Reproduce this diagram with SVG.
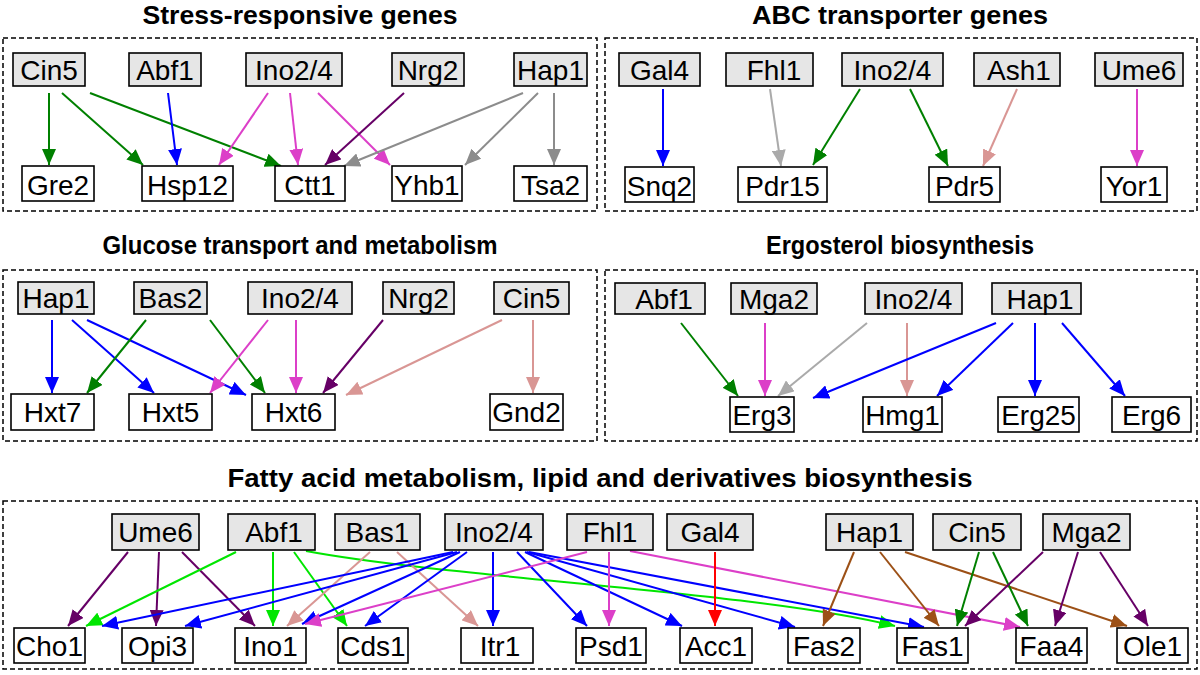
<svg xmlns="http://www.w3.org/2000/svg" width="1200" height="675" viewBox="0 0 1200 675">
<style>
.bg{fill:#fff}
.panel{fill:none;stroke:#000;stroke-width:1.5;stroke-dasharray:5 3}
.tf{fill:#e6e6e6;stroke:#000;stroke-width:1.6}
.gn{fill:#fff;stroke:#000;stroke-width:1.6}
text{font-family:"Liberation Sans",Arial,sans-serif;text-anchor:middle;fill:#000}
.lbl{font-size:28px}
.title{font-size:25px;font-weight:bold}
.c{fill:none;stroke-width:2}
.dg{stroke:#008000;marker-end:url(#a-dg)}
.bl{stroke:#0000ff;marker-end:url(#a-bl)}
.mg{stroke:#dc3fc8;marker-end:url(#a-mg)}
.pu{stroke:#660066;marker-end:url(#a-pu)}
.gy{stroke:#8c8c8c;marker-end:url(#a-gy)}
.lg{stroke:#aaaaaa;marker-end:url(#a-lg)}
.pk{stroke:#d99694;marker-end:url(#a-pk)}
.lm{stroke:#00e600;marker-end:url(#a-lm)}
.rd{stroke:#ff0000;marker-end:url(#a-rd)}
.br{stroke:#9c5016;marker-end:url(#a-br)}
</style>
<defs>
<marker id="a-dg" markerUnits="userSpaceOnUse" markerWidth="16" markerHeight="14" refX="16" refY="7" orient="auto"><path d="M0,0 L16,7 L0,14 z" fill="#008000"/></marker>
<marker id="a-bl" markerUnits="userSpaceOnUse" markerWidth="16" markerHeight="14" refX="16" refY="7" orient="auto"><path d="M0,0 L16,7 L0,14 z" fill="#0000ff"/></marker>
<marker id="a-mg" markerUnits="userSpaceOnUse" markerWidth="16" markerHeight="14" refX="16" refY="7" orient="auto"><path d="M0,0 L16,7 L0,14 z" fill="#dc3fc8"/></marker>
<marker id="a-pu" markerUnits="userSpaceOnUse" markerWidth="16" markerHeight="14" refX="16" refY="7" orient="auto"><path d="M0,0 L16,7 L0,14 z" fill="#660066"/></marker>
<marker id="a-gy" markerUnits="userSpaceOnUse" markerWidth="16" markerHeight="14" refX="16" refY="7" orient="auto"><path d="M0,0 L16,7 L0,14 z" fill="#8c8c8c"/></marker>
<marker id="a-lg" markerUnits="userSpaceOnUse" markerWidth="16" markerHeight="14" refX="16" refY="7" orient="auto"><path d="M0,0 L16,7 L0,14 z" fill="#aaaaaa"/></marker>
<marker id="a-pk" markerUnits="userSpaceOnUse" markerWidth="16" markerHeight="14" refX="16" refY="7" orient="auto"><path d="M0,0 L16,7 L0,14 z" fill="#d99694"/></marker>
<marker id="a-lm" markerUnits="userSpaceOnUse" markerWidth="16" markerHeight="14" refX="16" refY="7" orient="auto"><path d="M0,0 L16,7 L0,14 z" fill="#00e600"/></marker>
<marker id="a-rd" markerUnits="userSpaceOnUse" markerWidth="16" markerHeight="14" refX="16" refY="7" orient="auto"><path d="M0,0 L16,7 L0,14 z" fill="#ff0000"/></marker>
<marker id="a-br" markerUnits="userSpaceOnUse" markerWidth="16" markerHeight="14" refX="16" refY="7" orient="auto"><path d="M0,0 L16,7 L0,14 z" fill="#9c5016"/></marker>
</defs>
<rect class="bg" x="0" y="0" width="1200" height="675"/>

<g id="panels">
<rect class="panel" x="3" y="38" width="594" height="173"/>
<rect class="panel" x="605" y="38" width="592" height="173"/>
<rect class="panel" x="3" y="270" width="594" height="171"/>
<rect class="panel" x="605" y="270" width="592" height="171"/>
<rect class="panel" x="3" y="501" width="1194" height="168"/>
<text class="title" x="300" y="24" textLength="315" lengthAdjust="spacingAndGlyphs">Stress-responsive genes</text>
<text class="title" x="900" y="24" textLength="296" lengthAdjust="spacingAndGlyphs">ABC transporter genes</text>
<text class="title" x="300" y="254" textLength="395" lengthAdjust="spacingAndGlyphs">Glucose transport and metabolism</text>
<text class="title" x="900" y="254" textLength="268" lengthAdjust="spacingAndGlyphs">Ergosterol biosynthesis</text>
<text class="title" x="600" y="487" textLength="745" lengthAdjust="spacingAndGlyphs">Fatty acid metabolism, lipid and derivatives biosynthesis</text>
</g>

<g id="connectors">
<!-- Panel 1 -->
<path class="c dg" d="M49,93 L49,165"/>
<path class="c dg" d="M62,93 L143,165"/>
<path class="c dg" d="M90,93 L281,166"/>
<path class="c bl" d="M168,93 L177,165"/>
<path class="c mg" d="M268,93 L219,165"/>
<path class="c mg" d="M290,93 L298,165"/>
<path class="c mg" d="M318,93 L390,165"/>
<path class="c pu" d="M404,93 L325,165"/>
<path class="c gy" d="M523,93 L344,166"/>
<path class="c gy" d="M538,93 L465,165"/>
<path class="c gy" d="M554,93 L554,165"/>
<!-- Panel 2 -->
<path class="c bl" d="M663,89 L663,166"/>
<path class="c lg" d="M770,89 L781,166"/>
<path class="c dg" d="M860,89 L813,165"/>
<path class="c dg" d="M910,89 L948,166"/>
<path class="c pk" d="M1017,89 L983,166"/>
<path class="c mg" d="M1137,89 L1137,166"/>
<!-- Panel 3 -->
<path class="c bl" d="M52,320 L52,393"/>
<path class="c bl" d="M72,320 L154,393"/>
<path class="c bl" d="M87,320 L246,395"/>
<path class="c dg" d="M146,320 L87,393"/>
<path class="c dg" d="M210,320 L265,393"/>
<path class="c mg" d="M268,320 L210,393"/>
<path class="c mg" d="M296,320 L296,393"/>
<path class="c pu" d="M383,320 L323,393"/>
<path class="c pk" d="M502,320 L346,395"/>
<path class="c pk" d="M533,320 L533,393"/>
<!-- Panel 4 -->
<path class="c dg" d="M681,323 L738,396"/>
<path class="c mg" d="M765,323 L765,396"/>
<path class="c lg" d="M867,323 L778,396"/>
<path class="c pk" d="M907,323 L907,396"/>
<path class="c bl" d="M996,323 L813,398"/>
<path class="c bl" d="M1013,323 L937,396"/>
<path class="c bl" d="M1035,323 L1035,396"/>
<path class="c bl" d="M1062,323 L1125,396"/>
<!-- Panel 5 -->
<path class="c pu" d="M128,552 L68,626"/>
<path class="c pu" d="M159,552 L156,626"/>
<path class="c pu" d="M182,552 L255,626"/>
<path class="c lm" d="M236,552 L86,626"/>
<path class="c lm" d="M273,552 L273,626"/>
<path class="c lm" d="M294,552 L347,626"/>
<path class="c lm" d="M306,551 C450,578 760,592 895,626"/>
<path class="c pk" d="M370,552 L287,626"/>
<path class="c pk" d="M397,552 L478,626"/>
<path class="c bl" d="M453,552 L102,626"/>
<path class="c bl" d="M457,552 L185,626"/>
<path class="c bl" d="M460,552 L302,624"/>
<path class="c bl" d="M467,552 L365,626"/>
<path class="c bl" d="M493,552 L493,626"/>
<path class="c bl" d="M517,552 L587,626"/>
<path class="c bl" d="M525,552 L682,626"/>
<path class="c bl" d="M527,552 L795,627"/>
<path class="c bl" d="M529,552 L924,627"/>
<path class="c mg" d="M587,552 L305,624"/>
<path class="c mg" d="M609,552 L609,626"/>
<path class="c mg" d="M630,551 L1020,627"/>
<path class="c rd" d="M715,552 L715,626"/>
<path class="c br" d="M854,552 L823,626"/>
<path class="c br" d="M880,552 L939,626"/>
<path class="c br" d="M905,552 L1127,626"/>
<path class="c dg" d="M979,552 L957,626"/>
<path class="c dg" d="M993,552 L1028,626"/>
<path class="c pu" d="M1043,552 L965,626"/>
<path class="c pu" d="M1078,552 L1055,626"/>
<path class="c pu" d="M1100,552 L1148,626"/>
</g>

<!-- Panel 1 nodes -->
<g id="p1-cin5"><rect class="tf" x="13" y="53" width="72" height="33"/><text class="lbl" x="49" y="80">Cin5</text></g>
<g id="p1-abf1"><rect class="tf" x="129" y="53" width="72" height="33"/><text class="lbl" x="165" y="80">Abf1</text></g>
<g id="p1-ino24"><rect class="tf" x="246" y="53" width="96" height="33"/><text class="lbl" x="294" y="80">Ino2/4</text></g>
<g id="p1-nrg2"><rect class="tf" x="392" y="53" width="72" height="33"/><text class="lbl" x="428" y="80">Nrg2</text></g>
<g id="p1-hap1"><rect class="tf" x="514" y="53" width="73" height="33"/><text class="lbl" x="550.5" y="80">Hap1</text></g>
<g id="p1-gre2"><rect class="gn" x="22" y="166" width="72" height="35"/><text class="lbl" x="58" y="195">Gre2</text></g>
<g id="p1-hsp12"><rect class="gn" x="142" y="166" width="91" height="35"/><text class="lbl" x="187.5" y="195">Hsp12</text></g>
<g id="p1-ctt1"><rect class="gn" x="275" y="166" width="70" height="35"/><text class="lbl" x="310" y="195">Ctt1</text></g>
<g id="p1-yhb1"><rect class="gn" x="392" y="166" width="70" height="35"/><text class="lbl" x="427" y="195">Yhb1</text></g>
<g id="p1-tsa2"><rect class="gn" x="514" y="166" width="73" height="35"/><text class="lbl" x="550.5" y="195">Tsa2</text></g>

<!-- Panel 2 nodes -->
<g id="p2-gal4"><rect class="tf" x="619" y="53" width="81" height="33"/><text class="lbl" x="659.5" y="80">Gal4</text></g>
<g id="p2-fhl1"><rect class="tf" x="726" y="53" width="87" height="33"/><text class="lbl" x="774" y="80">Fhl1</text></g>
<g id="p2-ino24"><rect class="tf" x="842" y="53" width="101" height="33"/><text class="lbl" x="892.5" y="80">Ino2/4</text></g>
<g id="p2-ash1"><rect class="tf" x="974" y="53" width="86" height="33"/><text class="lbl" x="1019" y="80">Ash1</text></g>
<g id="p2-ume6"><rect class="tf" x="1095" y="53" width="88" height="33"/><text class="lbl" x="1139" y="80">Ume6</text></g>
<g id="p2-snq2"><rect class="gn" x="625" y="167" width="69" height="35"/><text class="lbl" x="659.5" y="196">Snq2</text></g>
<g id="p2-pdr15"><rect class="gn" x="738" y="167" width="89" height="35"/><text class="lbl" x="782.5" y="196">Pdr15</text></g>
<g id="p2-pdr5"><rect class="gn" x="929" y="167" width="71" height="35"/><text class="lbl" x="964.5" y="196">Pdr5</text></g>
<g id="p2-yor1"><rect class="gn" x="1101" y="167" width="66" height="35"/><text class="lbl" x="1134" y="196">Yor1</text></g>

<!-- Panel 3 nodes -->
<g id="p3-hap1"><rect class="tf" x="18" y="282" width="76" height="32"/><text class="lbl" x="56" y="308">Hap1</text></g>
<g id="p3-bas2"><rect class="tf" x="134" y="282" width="73" height="32"/><text class="lbl" x="170.5" y="308">Bas2</text></g>
<g id="p3-ino24"><rect class="tf" x="248" y="282" width="104" height="32"/><text class="lbl" x="300" y="308">Ino2/4</text></g>
<g id="p3-nrg2"><rect class="tf" x="383" y="282" width="71" height="32"/><text class="lbl" x="418.5" y="308">Nrg2</text></g>
<g id="p3-cin5"><rect class="tf" x="494" y="282" width="75" height="32"/><text class="lbl" x="531.5" y="308">Cin5</text></g>
<g id="p3-hxt7"><rect class="gn" x="11" y="394" width="83" height="36"/><text class="lbl" x="52.5" y="422">Hxt7</text></g>
<g id="p3-hxt5"><rect class="gn" x="129" y="394" width="83" height="36"/><text class="lbl" x="170.5" y="422">Hxt5</text></g>
<g id="p3-hxt6"><rect class="gn" x="252" y="394" width="83" height="36"/><text class="lbl" x="293.5" y="422">Hxt6</text></g>
<g id="p3-gnd2"><rect class="gn" x="490" y="394" width="73" height="36"/><text class="lbl" x="526.5" y="422">Gnd2</text></g>

<!-- Panel 4 nodes -->
<g id="p4-abf1"><rect class="tf" x="615" y="283" width="90" height="31"/><text class="lbl" x="664" y="308.5">Abf1</text></g>
<g id="p4-mga2"><rect class="tf" x="731" y="283" width="86" height="31"/><text class="lbl" x="774" y="308.5">Mga2</text></g>
<g id="p4-ino24"><rect class="tf" x="865" y="283" width="97" height="31"/><text class="lbl" x="913.5" y="308.5">Ino2/4</text></g>
<g id="p4-hap1"><rect class="tf" x="992" y="283" width="89" height="31"/><text class="lbl" x="1040" y="308.5">Hap1</text></g>
<g id="p4-erg3"><rect class="gn" x="730" y="397" width="64" height="35"/><text class="lbl" x="762" y="424.5">Erg3</text></g>
<g id="p4-hmg1"><rect class="gn" x="863" y="397" width="79" height="35"/><text class="lbl" x="902.5" y="424.5">Hmg1</text></g>
<g id="p4-erg25"><rect class="gn" x="998" y="397" width="81" height="35"/><text class="lbl" x="1038.5" y="424.5">Erg25</text></g>
<g id="p4-erg6"><rect class="gn" x="1112" y="397" width="79" height="35"/><text class="lbl" x="1151.5" y="424.5">Erg6</text></g>

<!-- Panel 5 nodes -->
<g id="p5-ume6"><rect class="tf" x="112" y="514" width="87" height="36"/><text class="lbl" x="155.5" y="542">Ume6</text></g>
<g id="p5-abf1"><rect class="tf" x="228" y="514" width="87" height="36"/><text class="lbl" x="274" y="542">Abf1</text></g>
<g id="p5-bas1"><rect class="tf" x="335" y="514" width="85" height="36"/><text class="lbl" x="377.5" y="542">Bas1</text></g>
<g id="p5-ino24"><rect class="tf" x="445" y="514" width="98" height="36"/><text class="lbl" x="494" y="542">Ino2/4</text></g>
<g id="p5-fhl1"><rect class="tf" x="567" y="514" width="86" height="36"/><text class="lbl" x="610" y="542">Fhl1</text></g>
<g id="p5-gal4"><rect class="tf" x="667" y="514" width="86" height="36"/><text class="lbl" x="710" y="542">Gal4</text></g>
<g id="p5-hap1"><rect class="tf" x="826" y="514" width="87" height="36"/><text class="lbl" x="869.5" y="542">Hap1</text></g>
<g id="p5-cin5"><rect class="tf" x="933" y="514" width="88" height="36"/><text class="lbl" x="977" y="542">Cin5</text></g>
<g id="p5-mga2"><rect class="tf" x="1043" y="514" width="87" height="36"/><text class="lbl" x="1086.5" y="542">Mga2</text></g>
<g id="p5-cho1"><rect class="gn" x="14" y="628" width="71" height="35"/><text class="lbl" x="49.5" y="656">Cho1</text></g>
<g id="p5-opi3"><rect class="gn" x="122" y="628" width="71" height="35"/><text class="lbl" x="157.5" y="656">Opi3</text></g>
<g id="p5-ino1"><rect class="gn" x="235" y="628" width="71" height="35"/><text class="lbl" x="270.5" y="656">Ino1</text></g>
<g id="p5-cds1"><rect class="gn" x="338" y="628" width="70" height="35"/><text class="lbl" x="373" y="656">Cds1</text></g>
<g id="p5-itr1"><rect class="gn" x="461" y="628" width="72" height="35"/><text class="lbl" x="500" y="656">Itr1</text></g>
<g id="p5-psd1"><rect class="gn" x="576" y="628" width="70" height="35"/><text class="lbl" x="611" y="656">Psd1</text></g>
<g id="p5-acc1"><rect class="gn" x="680" y="628" width="72" height="35"/><text class="lbl" x="716" y="656">Acc1</text></g>
<g id="p5-fas2"><rect class="gn" x="788" y="628" width="72" height="35"/><text class="lbl" x="824" y="656">Fas2</text></g>
<g id="p5-fas1"><rect class="gn" x="897" y="628" width="71" height="35"/><text class="lbl" x="932.5" y="656">Fas1</text></g>
<g id="p5-faa4"><rect class="gn" x="1016" y="628" width="71" height="35"/><text class="lbl" x="1051.5" y="656">Faa4</text></g>
<g id="p5-ole1"><rect class="gn" x="1117" y="628" width="71" height="35"/><text class="lbl" x="1152.5" y="656">Ole1</text></g>
</svg>
